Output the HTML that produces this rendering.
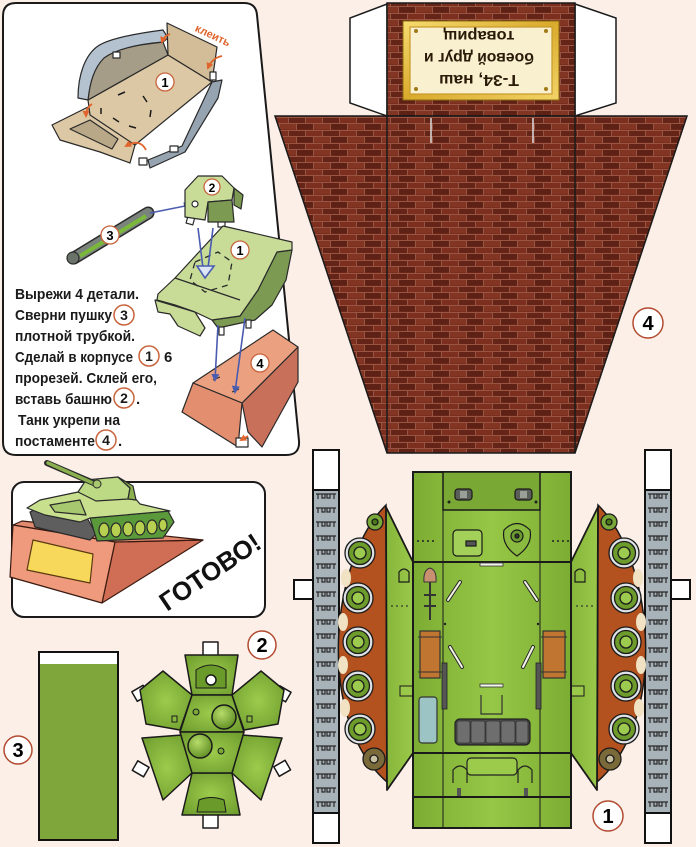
<!DOCTYPE html>
<html><head><meta charset="utf-8">
<style>
html,body{margin:0;padding:0;background:#fcefe8;}
svg{display:block;}
text{font-family:"Liberation Sans","DejaVu Sans",sans-serif;}
</style></head><body>
<svg width="696" height="847" viewBox="0 0 696 847" xmlns="http://www.w3.org/2000/svg">
<defs>
 <pattern id="brick" width="34" height="13" patternUnits="userSpaceOnUse">
  <rect width="34" height="13" fill="#72291b"/>
  <rect x="0" y="0.5" width="16" height="5.5" fill="#7c2f1f"/>
  <rect x="17" y="0.5" width="16" height="5.5" fill="#642418"/>
  <rect x="8" y="7" width="16" height="5.5" fill="#823522"/>
  <rect x="25" y="7" width="9" height="5.5" fill="#5e2116"/>
  <rect x="0" y="7" width="7" height="5.5" fill="#5e2116"/>
  <path d="M0 0.5H34M0 6.5H34M16.5 0.5V6.5M33.5 0.5V6.5M7.5 6.5V13M24.5 6.5V13" stroke="#9a5542" stroke-width="1"/>
 </pattern>
 <pattern id="treadL" x="313" y="490" width="26" height="14" patternUnits="userSpaceOnUse">
  <rect width="26" height="14" fill="#a8b2b9"/>
  <path d="M3 4H23M5 4V9M9 4V8H12V4M14 4V8H17V4M21 4V9" fill="none" stroke="#2a2a2a" stroke-width="1.2"/>
 </pattern>
 <pattern id="treadR" x="645" y="490" width="26" height="14" patternUnits="userSpaceOnUse">
  <rect width="26" height="14" fill="#a8b2b9"/>
  <path d="M3 4H23M5 4V9M9 4V8H12V4M14 4V8H17V4M21 4V9" fill="none" stroke="#2a2a2a" stroke-width="1.2"/>
 </pattern>
 <linearGradient id="hg" x1="0" x2="1" y1="0" y2="0">
  <stop offset="0" stop-color="#7cad33"/><stop offset="0.5" stop-color="#96c746"/><stop offset="1" stop-color="#7cad33"/>
 </linearGradient>
 <linearGradient id="fg" x1="0" x2="1" y1="0" y2="0">
  <stop offset="0" stop-color="#86b63a"/><stop offset="1" stop-color="#9ac84a"/>
 </linearGradient>
 <linearGradient id="gold" x1="0" x2="1" y1="0" y2="1">
  <stop offset="0" stop-color="#f6dc70"/><stop offset="0.5" stop-color="#d9aa2c"/><stop offset="1" stop-color="#f3d468"/>
 </linearGradient>
 <radialGradient id="tg" cx="0.5" cy="0.5" r="0.7">
  <stop offset="0" stop-color="#9ccb4c"/><stop offset="1" stop-color="#6c9a2c"/>
 </radialGradient>
 <radialGradient id="dome" cx="0.4" cy="0.35" r="0.7">
  <stop offset="0" stop-color="#b6dc6a"/><stop offset="1" stop-color="#5e8c22"/>
 </radialGradient>
 <marker id="ah" markerWidth="8" markerHeight="8" refX="6" refY="4" orient="auto" markerUnits="userSpaceOnUse">
  <path d="M0,0 L8,4 L0,8 Z" fill="#4a5cb0"/>
 </marker>
 <marker id="oh" markerWidth="7" markerHeight="7" refX="5" refY="3.5" orient="auto" markerUnits="userSpaceOnUse">
  <path d="M0,0 L7,3.5 L0,7 Z" fill="#e0642c"/>
 </marker>
</defs>

<!-- ================= BRICK PEDESTAL (4) ================= -->
<polygon points="387,4 350,18 350,103 387,116" fill="#fff" stroke="#1a1a1a" stroke-width="1.5"/>
<polygon points="575,4 616,18 616,103 575,116" fill="#fff" stroke="#1a1a1a" stroke-width="1.5"/>
<rect x="387" y="3" width="188" height="113" fill="url(#brick)" stroke="#1a1a1a" stroke-width="1.5"/>
<polygon points="275,116 687,116 575,453 387,453" fill="url(#brick)" stroke="#1a1a1a" stroke-width="1.5"/>
<line x1="387" y1="116" x2="387" y2="453" stroke="#1a1a1a" stroke-width="1.5"/>
<line x1="575" y1="116" x2="575" y2="453" stroke="#1a1a1a" stroke-width="1.5"/>
<line x1="431" y1="118" x2="431" y2="143" stroke="#ddd" stroke-width="1.5"/>
<line x1="533" y1="118" x2="533" y2="143" stroke="#ddd" stroke-width="1.5"/>
<!-- plaque -->
<rect x="403" y="21" width="156" height="79" fill="url(#gold)" stroke="#8a6a10" stroke-width="1"/>
<rect x="410" y="27" width="142" height="67" fill="#f8f0cf" stroke="#c89a2a" stroke-width="1.2"/>
<circle cx="416" cy="31" r="2" fill="#a07a18"/><circle cx="546" cy="31" r="2" fill="#a07a18"/>
<circle cx="416" cy="89" r="2" fill="#a07a18"/><circle cx="546" cy="89" r="2" fill="#a07a18"/>
<g transform="rotate(180 479 59)" fill="#2a1a08" font-weight="bold" font-size="16" text-anchor="middle">
 <text x="479" y="43" textLength="80" lengthAdjust="spacingAndGlyphs">Т-34, наш</text>
 <text x="479" y="65" textLength="110" lengthAdjust="spacingAndGlyphs">боевой друг и</text>
 <text x="479" y="87" textLength="71" lengthAdjust="spacingAndGlyphs">товарищ</text>
</g>
<circle cx="648" cy="323" r="15" fill="#fff" stroke="#b24a30" stroke-width="1.5"/>
<text x="648" y="330" font-size="20" font-weight="bold" text-anchor="middle">4</text>

<!-- ================= INSTRUCTION PANEL ================= -->
<path d="M3,16 Q3,3 16,3 L244,3 Q256,3 257,15 L299,441 Q300,455 286,455 L16,455 Q3,455 3,442 Z" fill="#fff" stroke="#1a1a1a" stroke-width="2"/>

<!-- folded hull box -->
<g stroke="#2a2a2a" stroke-width="1.2" stroke-linejoin="round">
 <polygon points="52,125 88,107 135,145 130,163 100,152 60,140" fill="#dcc8a4"/>
 <polygon points="70,129 90,120 118,139 112,149" fill="#b9a888"/>
 <polygon points="88,100 168,55 212,82 135,145 90,115" fill="#dcc8a4"/>
 <polygon points="88,100 90,80 102,58 123,47 163,42 168,55" fill="#a59d88"/>
 <path d="M78,98 C78,75 85,55 98,46 C110,38 140,33 163,30 L168,38 L163,42 C140,44 118,48 104,58 C94,68 90,82 88,100 Z" fill="#b4c2cf"/>
 <polygon points="167,23 217,47 212,82 168,55" fill="#d2bd98"/>
 <polygon points="212,82 222,80 218,98 185,152 150,168 148,160 182,146" fill="#96a3b0"/>
 <rect x="113" y="52" width="7" height="6" fill="#fff"/>
 <rect x="210" y="72" width="6" height="8" fill="#fff"/>
 <rect x="139" y="158" width="8" height="7" fill="#fff"/>
 <rect x="170" y="146" width="8" height="6" fill="#fff"/>
</g>
<g stroke="#1a1a1a" stroke-width="1.5">
 <line x1="118" y1="95" x2="125" y2="92"/><line x1="143" y1="96" x2="147" y2="102"/>
 <line x1="151" y1="110" x2="150" y2="117"/><line x1="113" y1="118" x2="119" y2="122"/>
 <line x1="129" y1="126" x2="136" y2="128"/><line x1="101" y1="108" x2="101" y2="114"/>
</g>
<g fill="none" stroke="#e0642c" stroke-width="1.8">
 <path d="M170,34 Q164,36 162,42" marker-end="url(#oh)"/>
 <path d="M222,56 Q212,58 208,68" marker-end="url(#oh)"/>
 <path d="M92,104 Q86,108 86,116" marker-end="url(#oh)"/>
 <path d="M146,150 Q140,138 126,146" marker-end="url(#oh)"/>
</g>
<text x="213" y="39" font-size="11" font-weight="bold" fill="#e0642c" text-anchor="middle" transform="rotate(25 213 35)">клеить</text>
<circle cx="165" cy="82" r="9" fill="#fff" stroke="#c8643c" stroke-width="1.3"/>
<text x="165" y="87" font-size="13" font-weight="bold" text-anchor="middle">1</text>

<!-- gun tube 3 -->
<line x1="74" y1="258" x2="148" y2="213" stroke="#2a2a2a" stroke-width="13" stroke-linecap="round"/>
<line x1="74" y1="258" x2="148" y2="213" stroke="#7a847c" stroke-width="10" stroke-linecap="round"/>
<line x1="80" y1="256" x2="146" y2="216" stroke="#7ab83a" stroke-width="4"/>
<circle cx="73" cy="258" r="6" fill="#6a726a" stroke="#2a2a2a" stroke-width="1.2"/>
<circle cx="110" cy="235" r="9" fill="#fff" stroke="#c8643c" stroke-width="1.3"/>
<text x="110" y="240" font-size="13" font-weight="bold" text-anchor="middle">3</text>
<line x1="150" y1="213" x2="190" y2="205" stroke="#4a5cb0" stroke-width="1.6" marker-end="url(#ah)"/>

<!-- turret 2 -->
<g stroke="#2a2a2a" stroke-width="1.2" stroke-linejoin="round">
 <rect x="187" y="216" width="7" height="8" fill="#fff" transform="rotate(15 190 220)"/>
 <rect x="218" y="219" width="7" height="8" fill="#fff"/>
 <polygon points="185,190 198,176 222,176 234,188 232,200 208,202 205,220 185,217" fill="#c8dc98"/>
 <polygon points="208,202 232,200 234,222 208,222" fill="#7c9a52"/>
 <polygon points="234,188 243,195 241,209 234,205" fill="#7c9a52"/>
 <circle cx="195" cy="204" r="3" fill="#fff"/>
</g>
<circle cx="212" cy="187" r="8" fill="#fff" stroke="#c8643c" stroke-width="1.3"/>
<text x="212" y="192" font-size="12" font-weight="bold" text-anchor="middle">2</text>

<!-- hull 1 -->
<g stroke="#2a2a2a" stroke-width="1.2" stroke-linejoin="round">
 <polygon points="155,300 158,312 170,314 178,326 200,336 205,328 195,312 175,306" fill="#c8dc98"/>
 <polygon points="292,250 286,280 272,305 255,320 218,328 212,320 240,316 258,290 277,252" fill="#7c9a52"/>
 <polygon points="158,294 175,278 223,226 292,242 292,250 277,252 258,290 240,316 212,320 195,312 175,305 157,300" fill="#c8dc98"/>
 <line x1="175" y1="278" x2="240" y2="300" />
 <rect x="219" y="327" width="5" height="8" fill="#fff"/>
 <rect x="246" y="320" width="5" height="8" fill="#fff"/>
</g>
<g stroke="#2a2a2a" stroke-width="1.3" fill="none" stroke-dasharray="6 5">
 <polygon points="195,262 218,252 232,262 228,285 205,292 190,280"/>
</g>
<circle cx="240" cy="250" r="9" fill="#fff" stroke="#c8643c" stroke-width="1.3"/>
<text x="240" y="255" font-size="13" font-weight="bold" text-anchor="middle">1</text>
<g stroke="#4a5cb0" stroke-width="1.6" fill="none">
 <line x1="198" y1="228" x2="203" y2="268"/>
 <line x1="213" y1="228" x2="208" y2="268"/>
 <polygon points="197,266 214,266 205,278" fill="#dde6f4"/>
</g>

<!-- pedestal 4 small -->
<g stroke="#2a2a2a" stroke-width="1.2" stroke-linejoin="round">
 <polygon points="242,403 298,347 298,382 262,447 248,432" fill="#c9705a"/>
 <polygon points="193,383 273,330 298,347 242,403" fill="#eba080"/>
 <polygon points="193,383 242,403 238,447 182,412" fill="#e48e70"/>
 <rect x="236" y="438" width="12" height="9" fill="#fff"/>
 <line x1="213" y1="380" x2="220" y2="377"/>
 <line x1="232" y1="392" x2="239" y2="389"/>
</g>
<path d="M248,436 L241,440" stroke="#e0642c" stroke-width="1.6" marker-end="url(#oh)"/>
<circle cx="260" cy="363" r="9" fill="#fff" stroke="#c8643c" stroke-width="1.3"/>
<text x="260" y="368" font-size="13" font-weight="bold" text-anchor="middle">4</text>
<line x1="218" y1="325" x2="215" y2="380" stroke="#4a5cb0" stroke-width="1.6" marker-end="url(#ah)"/>
<line x1="245" y1="318" x2="235" y2="392" stroke="#4a5cb0" stroke-width="1.6" marker-end="url(#ah)"/>

<!-- instruction text -->
<g font-size="15" font-weight="bold" fill="#1a1a1a">
 <text x="15" y="299" textLength="124" lengthAdjust="spacingAndGlyphs">Вырежи 4 детали.</text>
 <text x="15" y="320" textLength="97" lengthAdjust="spacingAndGlyphs">Сверни пушку</text>
 <text x="15" y="341" textLength="120" lengthAdjust="spacingAndGlyphs">плотной трубкой.</text>
 <text x="15" y="362" textLength="118" lengthAdjust="spacingAndGlyphs">Сделай в корпусе</text>
 <text x="164" y="362">6</text>
 <text x="15" y="383" textLength="142" lengthAdjust="spacingAndGlyphs">прорезей. Склей его,</text>
 <text x="15" y="404" textLength="97" lengthAdjust="spacingAndGlyphs">вставь башню</text>
 <text x="136" y="404">.</text>
 <text x="18" y="425" textLength="102" lengthAdjust="spacingAndGlyphs">Танк укрепи на</text>
 <text x="15" y="446" textLength="80" lengthAdjust="spacingAndGlyphs">постаменте</text>
 <text x="118" y="446">.</text>
</g>
<g fill="#fff" stroke="#c8643c" stroke-width="1.5">
 <circle cx="124" cy="315" r="10"/><circle cx="149" cy="356" r="10"/>
 <circle cx="124" cy="398" r="10"/><circle cx="106" cy="440" r="10"/>
</g>
<g font-size="14" font-weight="bold" text-anchor="middle" fill="#1a1a1a">
 <text x="124" y="320">3</text><text x="149" y="361">1</text>
 <text x="124" y="403">2</text><text x="106" y="445">4</text>
</g>

<!-- ================= READY PANEL ================= -->
<rect x="12" y="482" width="253" height="135" rx="12" fill="#fff" stroke="#1a1a1a" stroke-width="2"/>
<g stroke="#3a1a10" stroke-width="1.2" stroke-linejoin="round">
 <polygon points="115,542 203,540 102,603" fill="#cf6e55"/>
 <polygon points="13,525 22,521 203,540 115,542" fill="#e28a70"/>
 <polygon points="13,525 115,542 102,603 10,577" fill="#ef9a7c"/>
 <polygon points="33,540 93,554 90,583 27,570" fill="#f8d85a" stroke="#5a3a10"/>
</g>
<g stroke="#2a2a2a" stroke-width="1.2" stroke-linejoin="round">
 <polygon points="30,512 45,504 85,514 96,534 90,540 35,527" fill="#5e5e5e"/>
 <polygon points="90,518 168,511 174,522 163,538 97,541" fill="#5a9a3a"/>
 <g fill="#b8d050">
  <ellipse cx="104" cy="530" rx="5" ry="7"/><ellipse cx="116" cy="530" rx="5" ry="7"/>
  <ellipse cx="128" cy="529" rx="5" ry="7"/><ellipse cx="140" cy="528" rx="5" ry="7"/>
  <ellipse cx="152" cy="527" rx="5" ry="7"/><ellipse cx="163" cy="525" rx="4" ry="6"/>
 </g>
 <polygon points="27,508 40,500 78,492 128,490 140,504 170,511 90,518 80,522 45,515" fill="#c8e08e"/>
 <polygon points="50,505 80,500 86,515 55,512" fill="#a8c870"/>
 <polygon points="78,492 86,480 118,477 130,488 128,499 96,501" fill="#bcd984"/>
 <polygon points="118,477 130,488 128,499 136,500 133,486" fill="#8ab050"/>
</g>
<line x1="47" y1="463" x2="96" y2="484" stroke="#2a2a2a" stroke-width="6" stroke-linecap="round"/>
<line x1="48" y1="463" x2="95" y2="484" stroke="#8ab050" stroke-width="3.5" stroke-linecap="round"/>
<circle cx="97" cy="484" r="4" fill="#a8c870" stroke="#2a2a2a"/>
<text x="210" y="581" font-size="26" font-weight="bold" fill="#111" text-anchor="middle" textLength="116" lengthAdjust="spacingAndGlyphs" transform="rotate(-34 210 572)">ГОТОВО!</text>

<!-- ================= PART 3 ================= -->
<rect x="39" y="652" width="79" height="188" fill="#7ea63a" stroke="#111" stroke-width="2"/>
<rect x="40" y="653" width="77" height="11" fill="#fff"/>
<circle cx="18" cy="750" r="14" fill="#fff" stroke="#b24a30" stroke-width="1.5"/>
<text x="18" y="757" font-size="20" font-weight="bold" text-anchor="middle">3</text>

<!-- ================= PART 2 (turret net) ================= -->
<g stroke="#1a1a1a" stroke-width="1.5" stroke-linejoin="round">
 <rect x="203" y="642" width="15" height="14" fill="#fff"/>
 <rect x="203" y="814" width="15" height="14" fill="#fff"/>
 <rect x="134" y="688" width="13" height="11" fill="#fff" transform="rotate(-30 140 694)"/>
 <rect x="134" y="763" width="13" height="11" fill="#fff" transform="rotate(30 140 769)"/>
 <rect x="276" y="688" width="13" height="11" fill="#fff" transform="rotate(30 282 694)"/>
 <rect x="276" y="763" width="13" height="11" fill="#fff" transform="rotate(-30 282 769)"/>
 <polygon points="185,655 238,655 232,695 192,695" fill="url(#tg)"/>
 <polygon points="192,773 232,773 240,815 182,815" fill="url(#tg)"/>
 <polygon points="163,671 192,695 180,730 146,724 140,690" fill="url(#tg)"/>
 <polygon points="142,738 182,735 192,773 163,800" fill="url(#tg)"/>
 <polygon points="261,671 232,695 244,730 278,724 284,690" fill="url(#tg)"/>
 <polygon points="282,738 242,735 232,773 261,800" fill="url(#tg)"/>
 <polygon points="192,695 232,695 244,732 180,732" fill="url(#tg)"/>
 <polygon points="180,732 244,732 232,773 192,773" fill="url(#tg)"/>
 <path d="M196,670 Q211,660 226,670 L226,688 L196,688 Z" fill="#6a9a2a" stroke-width="1"/>
 <circle cx="211" cy="680" r="5" fill="#fff"/>
 <path d="M197,812 L199,800 Q211,795 224,800 L226,812 Z" fill="#6a9a2a" stroke-width="1"/>
 <circle cx="224" cy="717" r="12" fill="url(#dome)"/>
 <circle cx="200" cy="746" r="12" fill="url(#dome)"/>
 <circle cx="196" cy="712" r="3" fill="#7aa83a" stroke-width="1"/>
 <circle cx="221" cy="751" r="3" fill="#7aa83a" stroke-width="1"/>
 <rect x="172" y="716" width="5" height="6" fill="#8ab840" stroke-width="1"/>
 <rect x="247" y="716" width="5" height="6" fill="#8ab840" stroke-width="1"/>
</g>
<circle cx="262" cy="645" r="14" fill="#fff" stroke="#b24a30" stroke-width="1.5"/>
<text x="262" y="652" font-size="20" font-weight="bold" text-anchor="middle">2</text>

<!-- ================= TRACKS ================= -->
<rect x="313" y="450" width="26" height="393" fill="#fff" stroke="#111" stroke-width="2"/>
<rect x="313" y="490" width="26" height="323" fill="url(#treadL)" stroke="#111" stroke-width="2"/>
<rect x="294" y="580" width="19" height="19" fill="#fff" stroke="#111" stroke-width="2"/>
<rect x="645" y="450" width="26" height="393" fill="#fff" stroke="#111" stroke-width="2"/>
<rect x="645" y="490" width="26" height="323" fill="url(#treadR)" stroke="#111" stroke-width="2"/>
<rect x="671" y="580" width="19" height="19" fill="#fff" stroke="#111" stroke-width="2"/>

<!-- ================= WHEEL SIDES ================= -->
<g stroke="#1a1a1a" stroke-width="1.5">
 <path d="M386,505 C330,560 315,720 387,782 Z" fill="#b3521e"/>
 <path d="M598,505 C654,560 669,720 597,782 Z" fill="#b3521e"/>
</g>
<g fill="#f0e2c2">
 <ellipse cx="346" cy="578" rx="5" ry="9"/><ellipse cx="343" cy="622" rx="5" ry="9"/>
 <ellipse cx="343" cy="665" rx="5" ry="9"/><ellipse cx="345" cy="708" rx="5" ry="9"/>
 <ellipse cx="638" cy="578" rx="5" ry="9"/><ellipse cx="641" cy="622" rx="5" ry="9"/>
 <ellipse cx="641" cy="665" rx="5" ry="9"/><ellipse cx="639" cy="708" rx="5" ry="9"/>
</g>
<g stroke="#1a1a1a" stroke-width="1.3">
 <circle cx="360" cy="553" r="15" fill="#dfe3e6"/><circle cx="360" cy="553" r="11.5" fill="#6d9c2c"/><circle cx="360" cy="553" r="6" fill="#9ccb50"/>
 <circle cx="358" cy="598" r="15" fill="#dfe3e6"/><circle cx="358" cy="598" r="11.5" fill="#6d9c2c"/><circle cx="358" cy="598" r="6" fill="#9ccb50"/>
 <circle cx="358" cy="642" r="15" fill="#dfe3e6"/><circle cx="358" cy="642" r="11.5" fill="#6d9c2c"/><circle cx="358" cy="642" r="6" fill="#9ccb50"/>
 <circle cx="358" cy="686" r="15" fill="#dfe3e6"/><circle cx="358" cy="686" r="11.5" fill="#6d9c2c"/><circle cx="358" cy="686" r="6" fill="#9ccb50"/>
 <circle cx="360" cy="729" r="15" fill="#dfe3e6"/><circle cx="360" cy="729" r="11.5" fill="#6d9c2c"/><circle cx="360" cy="729" r="6" fill="#9ccb50"/>
 <circle cx="375" cy="522" r="8" fill="#7aa83a"/><circle cx="375" cy="522" r="3" fill="#4a7a1a"/>
 <circle cx="374" cy="759" r="11" fill="#7a6a3a"/><circle cx="374" cy="759" r="4" fill="#c8c0a0"/>
 <circle cx="624" cy="553" r="15" fill="#dfe3e6"/><circle cx="624" cy="553" r="11.5" fill="#6d9c2c"/><circle cx="624" cy="553" r="6" fill="#9ccb50"/>
 <circle cx="626" cy="598" r="15" fill="#dfe3e6"/><circle cx="626" cy="598" r="11.5" fill="#6d9c2c"/><circle cx="626" cy="598" r="6" fill="#9ccb50"/>
 <circle cx="626" cy="642" r="15" fill="#dfe3e6"/><circle cx="626" cy="642" r="11.5" fill="#6d9c2c"/><circle cx="626" cy="642" r="6" fill="#9ccb50"/>
 <circle cx="626" cy="686" r="15" fill="#dfe3e6"/><circle cx="626" cy="686" r="11.5" fill="#6d9c2c"/><circle cx="626" cy="686" r="6" fill="#9ccb50"/>
 <circle cx="624" cy="729" r="15" fill="#dfe3e6"/><circle cx="624" cy="729" r="11.5" fill="#6d9c2c"/><circle cx="624" cy="729" r="6" fill="#9ccb50"/>
 <circle cx="609" cy="522" r="8" fill="#7aa83a"/><circle cx="609" cy="522" r="3" fill="#4a7a1a"/>
 <circle cx="610" cy="759" r="11" fill="#7a6a3a"/><circle cx="610" cy="759" r="4" fill="#c8c0a0"/>
</g>

<!-- ================= HULL FLAPS ================= -->
<g stroke="#1a1a1a" stroke-width="1.8" stroke-linejoin="round">
 <polygon points="386,507 413,562 413,753 387,790" fill="url(#fg)"/>
 <polygon points="598,507 571,562 571,753 597,790" fill="url(#fg)"/>
</g>
<g fill="#333">
 <circle cx="392" cy="606" r="0.9"/><circle cx="397" cy="606" r="0.9"/><circle cx="402" cy="606" r="0.9"/><circle cx="407" cy="606" r="0.9"/>
 <circle cx="577" cy="606" r="0.9"/><circle cx="582" cy="606" r="0.9"/><circle cx="587" cy="606" r="0.9"/><circle cx="592" cy="606" r="0.9"/>
</g>
<g fill="none" stroke="#1a1a1a" stroke-width="1.2">
 <path d="M399,582 V572 Q404,566 409,572 V582 Z"/>
 <path d="M575,582 V572 Q580,566 585,572 V582 Z"/>
</g>
<rect x="400" y="686" width="13" height="10" fill="#9ac84a" stroke="#1a1a1a" stroke-width="1"/>
<rect x="571" y="686" width="13" height="10" fill="#9ac84a" stroke="#1a1a1a" stroke-width="1"/>

<!-- ================= HULL ================= -->
<rect x="413" y="472" width="158" height="356" fill="url(#hg)" stroke="#1a1a1a" stroke-width="2"/>
<rect x="443" y="472" width="97" height="38" fill="#7aa834" stroke="#1a1a1a" stroke-width="1.5"/>
<g stroke="#1a1a1a">
 <line x1="413" y1="562" x2="571" y2="562" stroke-width="2"/>
 <line x1="413" y1="753" x2="571" y2="753" stroke-width="2"/>
 <line x1="413" y1="797" x2="571" y2="797" stroke-width="2"/>
 <line x1="443" y1="510" x2="443" y2="828" stroke-width="1"/>
 <line x1="540" y1="510" x2="540" y2="828" stroke-width="1"/>
</g>
<g stroke="#1a1a1a" stroke-width="1.2">
 <rect x="455" y="489" width="17" height="11" rx="3" fill="#5a5e58"/>
 <rect x="515" y="489" width="17" height="11" rx="3" fill="#5a5e58"/>
 <rect x="460" y="491" width="7" height="7" fill="#9aa098" stroke="none"/>
 <rect x="520" y="491" width="7" height="7" fill="#9aa098" stroke="none"/>
 <rect x="453" y="530" width="29" height="26" rx="4" fill="#a2d058"/>
 <rect x="466" y="541" width="10" height="5" fill="#555"/>
 <path d="M504,530 Q517,517 530,530 Q533,545 517,556 Q501,545 504,530 Z" fill="#8aba40"/>
 <circle cx="517" cy="536" r="6" fill="#6a9a30"/>
 <circle cx="517" cy="536" r="2" fill="#333"/>
</g>
<circle cx="449" cy="502" r="1.5" fill="#222"/><circle cx="536" cy="502" r="1.5" fill="#222"/>
<g fill="#222">
 <circle cx="418" cy="541" r="1"/><circle cx="423" cy="541" r="1"/><circle cx="428" cy="541" r="1"/><circle cx="433" cy="541" r="1"/>
 <circle cx="553" cy="541" r="1"/><circle cx="558" cy="541" r="1"/><circle cx="563" cy="541" r="1"/><circle cx="568" cy="541" r="1"/>
 <circle cx="445" cy="624" r="1.2"/><circle cx="538" cy="624" r="1.2"/>
</g>
<!-- shovel -->
<line x1="430" y1="580" x2="430" y2="620" stroke="#333" stroke-width="2"/>
<path d="M424,582 Q423,570 430,568 Q437,570 436,582 Z" fill="#c89070" stroke="#333" stroke-width="1"/>
<line x1="424" y1="595" x2="436" y2="595" stroke="#333" stroke-width="2"/>
<line x1="424" y1="606" x2="436" y2="606" stroke="#333" stroke-width="2"/>
<!-- crates -->
<rect x="420" y="631" width="20" height="47" fill="#c07530" stroke="#333" stroke-width="1.2"/>
<rect x="543" y="631" width="22" height="47" fill="#c07530" stroke="#333" stroke-width="1.2"/>
<g stroke="#333" stroke-width="1"><line x1="418" y1="637" x2="442" y2="637"/><line x1="418" y1="672" x2="442" y2="672"/>
<line x1="541" y1="637" x2="567" y2="637"/><line x1="541" y1="672" x2="567" y2="672"/></g>
<!-- barrel -->
<rect x="419" y="697" width="18" height="46" rx="3" fill="#9cc4c4" stroke="#333" stroke-width="1.2"/>
<!-- diagonal marks -->
<g stroke="#2a2a2a" stroke-width="4" stroke-linecap="round">
 <line x1="448" y1="600" x2="460" y2="582"/><line x1="525" y1="582" x2="537" y2="600"/>
 <line x1="450" y1="647" x2="462" y2="667"/><line x1="533" y1="647" x2="523" y2="667"/>
</g>
<g stroke="#f4f4e8" stroke-width="2" stroke-linecap="round">
 <line x1="448" y1="600" x2="460" y2="582"/><line x1="525" y1="582" x2="537" y2="600"/>
 <line x1="450" y1="647" x2="462" y2="667"/><line x1="533" y1="647" x2="523" y2="667"/>
</g>
<rect x="480" y="563" width="23" height="3" fill="#f4f4e8" stroke="#333" stroke-width="0.8"/>
<rect x="480" y="684" width="23" height="3" fill="#f4f4e8" stroke="#333" stroke-width="0.8"/>
<path d="M481,695 V714 H502 V695" fill="none" stroke="#333" stroke-width="1.2"/>
<rect x="442" y="663" width="5" height="46" fill="#555" stroke="#222" stroke-width="0.8"/>
<rect x="536" y="663" width="5" height="46" fill="#555" stroke="#222" stroke-width="0.8"/>
<!-- engine grill -->
<rect x="455" y="719" width="75" height="26" rx="5" fill="#4a4a4a" stroke="#222" stroke-width="1.2"/>
<g fill="#6e6e6e" stroke="#333" stroke-width="0.8">
 <rect x="457" y="721" width="13" height="22" rx="2"/><rect x="471" y="721" width="14" height="22" rx="2"/>
 <rect x="486" y="721" width="14" height="22" rx="2"/><rect x="501" y="721" width="14" height="22" rx="2"/>
 <rect x="516" y="721" width="12" height="22" rx="2"/>
</g>
<!-- rear section -->
<rect x="467" y="758" width="50" height="17" rx="4" fill="#9ccb4c" stroke="#222" stroke-width="1.2"/>
<g fill="none" stroke="#222" stroke-width="1.2">
 <path d="M453,783 V770 Q460,762 467,770 V783"/><path d="M518,783 V770 Q525,762 532,770 V783"/>
</g>
<rect x="457" y="788" width="4" height="8" fill="#555"/><rect x="524" y="788" width="4" height="8" fill="#555"/>
<circle cx="608" cy="816" r="15" fill="#fff" stroke="#b24a30" stroke-width="1.5"/>
<text x="608" y="823" font-size="20" font-weight="bold" text-anchor="middle">1</text>
</svg>
</body></html>
